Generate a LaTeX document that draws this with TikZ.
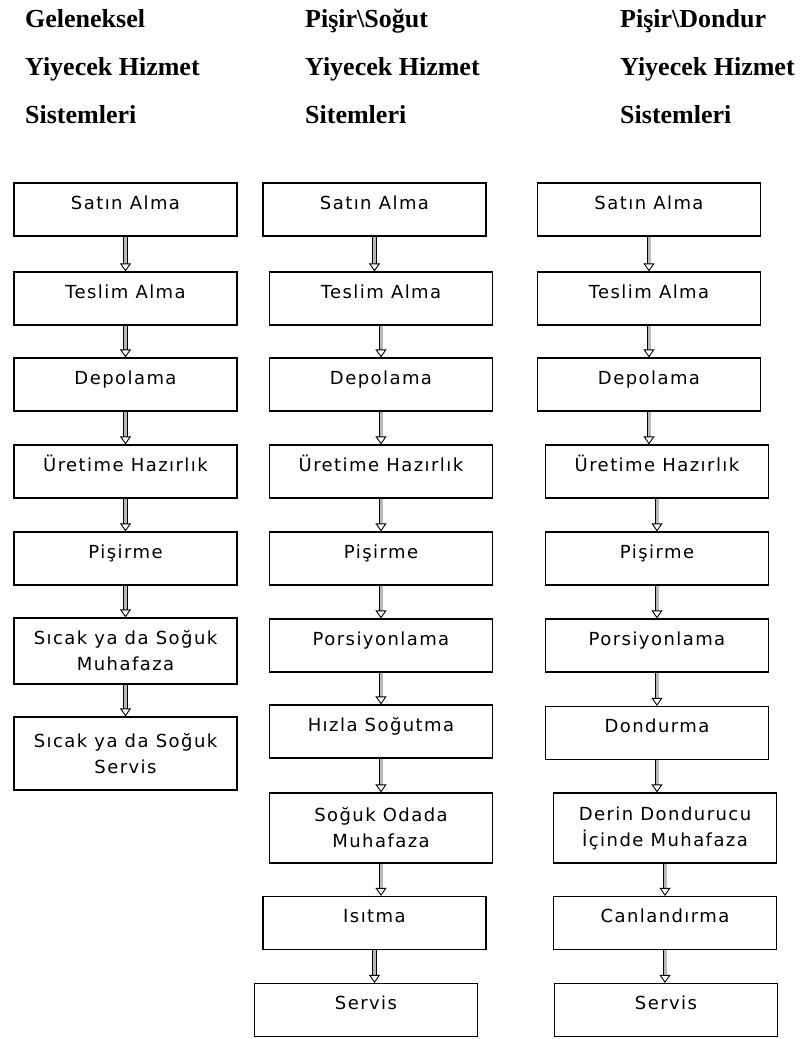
\documentclass[tikz,border=0pt]{standalone}
\usepackage{fontspec}
\setmainfont{Liberation Serif}
\newfontfamily\boxfont[LetterSpace=8]{DejaVu Sans}
\usepackage{tikz}
\usetikzlibrary{arrows.meta, positioning}
\tikzstyle{process}  = [rectangle, draw, line width=1.2pt, minimum width=223pt, minimum height=53pt, align=center, font=\boxfont\fontsize{18}{26}\selectfont, text height=13pt, text depth=14pt]
\tikzstyle{process2} = [rectangle, draw, line width=1.2pt, minimum width=223pt, minimum height=68pt, align=center, font=\boxfont\fontsize{18}{26}\selectfont]
\tikzstyle{title}    = [anchor=base west, inner sep=0pt, font=\bfseries\fontsize{26}{30}\selectfont]
\tikzstyle{arrow}    = [line width=0.9pt, double=gray!55, double distance=3pt, -{Triangle[open, width=11pt, length=8pt, line width=0.9pt]}]

\begin{document}
\begin{tikzpicture}[x=1pt, y=-1pt]
    \useasboundingbox (0,0) rectangle (805,1039);

    % titles
    \node (t1a) [title] at (25,27) {Geleneksel};
    \node (t1b) [title] at (25,75) {Yiyecek Hizmet};
    \node (t1c) [title] at (25,123) {Sistemleri};
    \node (t2a) [title] at (305,27) {Pişir\textbackslash Soğut};
    \node (t2b) [title] at (305,75) {Yiyecek Hizmet};
    \node (t2c) [title] at (305,123) {Sitemleri};
    \node (t3a) [title] at (620,27) {Pişir\textbackslash Dondur};
    \node (t3b) [title] at (620,75) {Yiyecek Hizmet};
    \node (t3c) [title] at (620,123) {Sistemleri};

    % geleneksel
    \node (g1) [process] at (125.5,209.5) {Satın Alma};
    \node (g2) [process] at (125.5,298.5) {Teslim Alma};
    \node (g3) [process] at (125.5,384.5) {Depolama};
    \node (g4) [process] at (125.5,471.5) {Üretime Hazırlık};
    \node (g5) [process] at (125.5,558.5) {Pişirme};
    \node (g6) [process2, minimum height=66pt] at (125.5,651) {Sıcak ya da Soğuk\\Muhafaza};
    \node (g7) [process2, minimum height=73pt] at (125.5,753.5) {Sıcak ya da Soğuk\\Servis};

    % pisir-sogut
    \node (s1) [process] at (374.5,209.5) {Satın Alma};
    \node (s2) [process] at (381,298.5) {Teslim Alma};
    \node (s3) [process] at (381,384.5) {Depolama};
    \node (s4) [process] at (381,471.5) {Üretime Hazırlık};
    \node (s5) [process] at (381,558.5) {Pişirme};
    \node (s6) [process] at (381,645.5) {Porsiyonlama};
    \node (s7) [process] at (381,731.5) {Hızla Soğutma};
    \node (s8) [process2, minimum height=70pt] at (381,828) {Soğuk Odada\\Muhafaza};
    \node (s9) [process] at (374.5,923) {Isıtma};
    \node (s10) [process] at (366,1010) {Servis};

    % pisir-dondur
    \node (d1) [process] at (649,209.5) {Satın Alma};
    \node (d2) [process] at (649,298.5) {Teslim Alma};
    \node (d3) [process] at (649,384.5) {Depolama};
    \node (d4) [process] at (657,471.5) {Üretime Hazırlık};
    \node (d5) [process] at (657,558.5) {Pişirme};
    \node (d6) [process] at (657,645.5) {Porsiyonlama};
    \node (d7) [process] at (657,733) {Dondurma};
    \node (d8) [process2, minimum height=70pt] at (665,828) {Derin Dondurucu\\İçinde Muhafaza};
    \node (d9) [process] at (665,923) {Canlandırma};
    \node (d10) [process] at (666,1010) {Servis};

    \foreach \a/\b in {g1/g2, g2/g3, g3/g4, g4/g5, g5/g6, g6/g7,
                       s1/s2, s2/s3, s3/s4, s4/s5, s5/s6, s6/s7, s7/s8, s8/s9, s9/s10,
                       d1/d2, d2/d3, d3/d4, d4/d5, d5/d6, d6/d7, d7/d8, d8/d9, d9/d10}
        \draw [arrow] (\a.south) -- (\a.south |- \b.north);
\end{tikzpicture}
\end{document}
